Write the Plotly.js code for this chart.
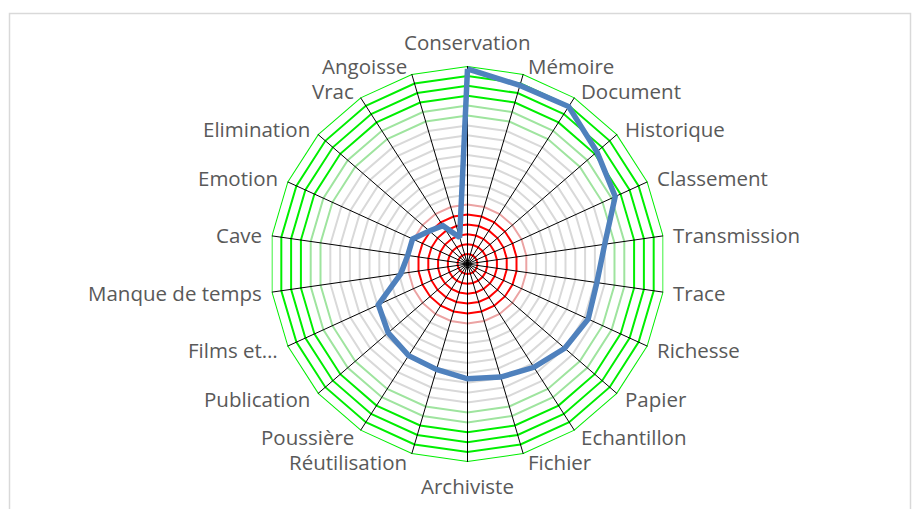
<!DOCTYPE html>
<html>
<head>
<meta charset="utf-8">
<script src="https://cdn.plot.ly/plotly-3.0.1.min.js"></script>
<style>html,body{margin:0;padding:0;background:#fff;}#chart{width:912px;height:509px;}</style>
</head>
<body>
<div id="chart"></div>
<script>
// ---- data ----
const categories = ["Conservation","Mémoire","Document","Historique","Classement","Transmission","Trace","Richesse","Papier","Echantillon","Fichier","Archiviste","Réutilisation","Poussière","Publication","Films et…","Manque de temps","Cave","Emotion","Elimination","Vrac","Angoisse"];
const scores = [19.7,18.8,18.9,17.3,16.4,14.0,13.2,13.4,13.0,12.4,11.9,11.6,11.1,11.0,10.6,9.9,6.8,6.1,6.1,5.1,4.6,2.8];
const ringLevels = [1,2,3,4,5,6,7,8,9,10,11,12,13,14,15,16,17,18,19,20];
const axisMax = 20;

// ---- styles ----
function ringColor(v){
  if (v <= 5) return '#FF0000';
  if (v === 6) return '#EBA3A3';
  if (v <= 14) return '#D9D9D9';
  if (v <= 16) return '#9FE49F';
  return '#00EE00';
}

const closedTheta = categories.concat([categories[0]]);
const traces = [];
ringLevels.forEach(v => {
  traces.push({
    type:'scatterpolar', mode:'lines',
    r: closedTheta.map(() => v), theta: closedTheta,
    line:{color: ringColor(v), width: 2},
    hoverinfo:'skip', showlegend:false
  });
});
// spokes
const spokeR = [], spokeT = [];
categories.forEach(c => { spokeR.push(0, axisMax, null); spokeT.push(c, c, c); });
traces.push({
  type:'scatterpolar', mode:'lines', r: spokeR, theta: spokeT,
  connectgaps:false, line:{color:'#000000', width:1},
  hoverinfo:'skip', showlegend:false
});
// main series
traces.push({
  type:'scatterpolar', mode:'lines',
  r: scores.concat([scores[0]]), theta: closedTheta,
  line:{color:'#4F81BD', width:5.5, shape:'linear'},
  showlegend:false
});

const W = 912, H = 509, cx = 467.5, cy = 264, R = 198, labelGap = 8;

// category labels placed Excel-style around the polygon
const n = categories.length;
const annotations = categories.map((c, i) => {
  const a = i * 2 * Math.PI / n;
  const s = Math.sin(a), co = Math.cos(a);
  const px = cx + (R + labelGap) * s;
  const py = cy - (R + labelGap) * co;
  let xa = 'center', ya = 'middle';
  if (Math.abs(s) > 0.01) xa = s > 0 ? 'left' : 'right';
  else ya = co > 0 ? 'bottom' : 'top';
  return {
    text: c, showarrow:false, xref:'paper', yref:'paper',
    x: px / W, y: 1 - py / H, xanchor: xa, yanchor: ya,
    font:{size:20.5, color:'#595959', family:'Open Sans, sans-serif'}
  };
});

const layout = {
  width: W, height: H,
  margin:{l:0,r:0,t:0,b:0},
  paper_bgcolor:'#ffffff',
  showlegend:false,
  font:{family:'Open Sans, sans-serif', color:'#595959'},
  polar:{
    domain:{x:[(cx-R)/W,(cx+R)/W], y:[(H-cy-R)/H,(H-cy+R)/H]},
    bgcolor:'rgba(0,0,0,0)',
    gridshape:'linear',
    radialaxis:{visible:false, range:[0,axisMax], showgrid:false},
    angularaxis:{
      type:'category', categoryarray: categories,
      direction:'clockwise', rotation:90,
      showgrid:false, showline:false, ticks:'', showticklabels:false
    }
  },
  annotations: annotations,
  shapes:[{
    type:'rect', xref:'paper', yref:'paper',
    x0: 9.5/W, x1: 910.5/W, y0: -10/H, y1: (H-13.5)/H,
    line:{color:'#D9D9D9', width:1.5}, fillcolor:'rgba(0,0,0,0)'
  }]
};
Plotly.newPlot('chart', traces, layout, {displayModeBar:false, staticPlot:true});
</script>
</body>
</html>
